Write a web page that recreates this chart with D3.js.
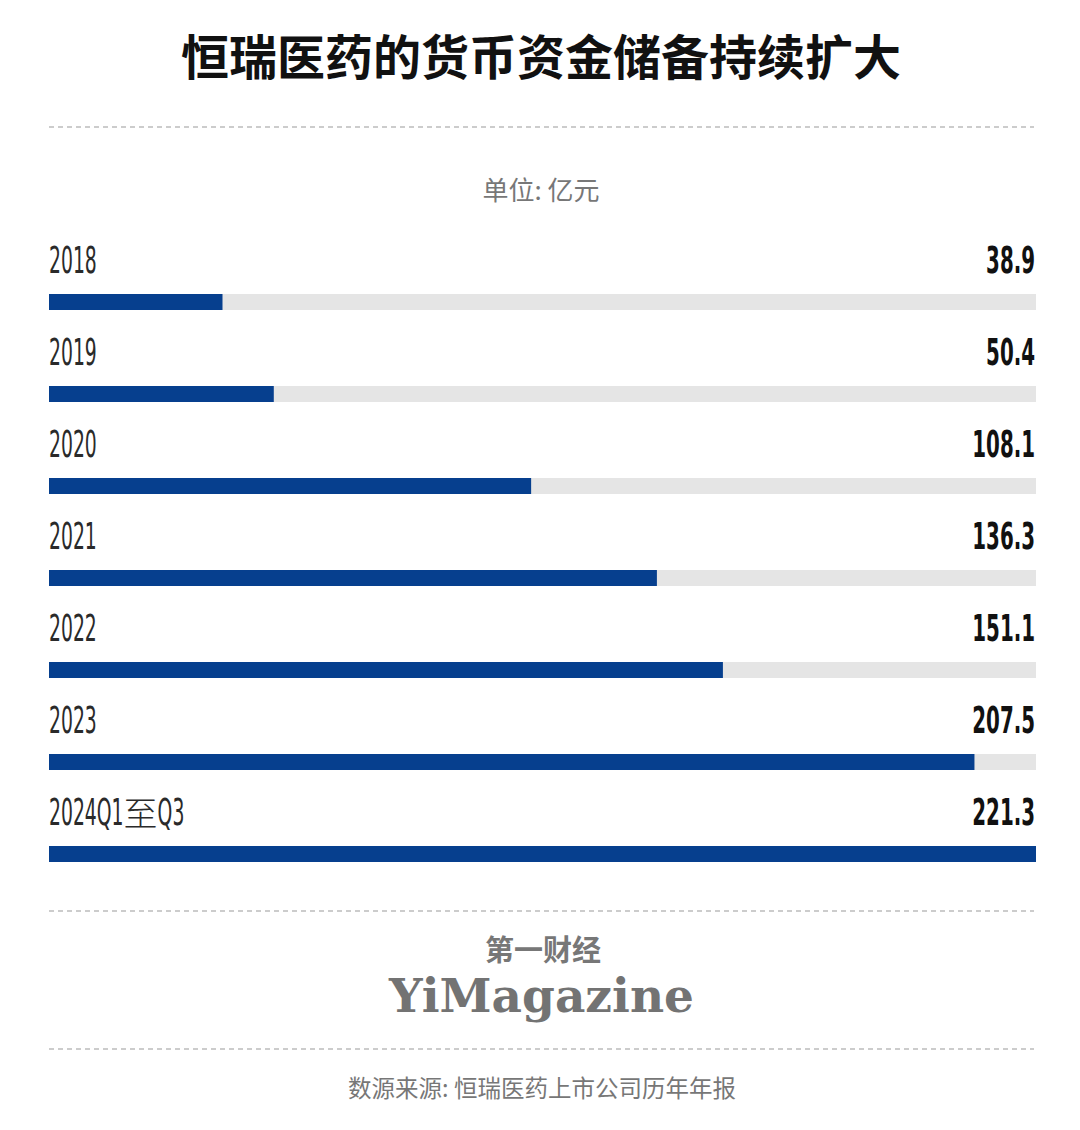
<!DOCTYPE html>
<html><head><meta charset="utf-8">
<script src="https://cdn.jsdelivr.net/npm/d3@7/dist/d3.min.js"></script>
<style>body{margin:0;background:#fff}svg{display:block}</style>
</head><body>
<svg id="c" width="1080" height="1130"></svg>
<script>
const categories = ["2018","2019","2020","2021","2022","2023","2024Q1至Q3"];
const values = [38.9, 50.4, 108.1, 136.3, 151.1, 207.5, 221.3];
const valueLabels = ["38.9","50.4","108.1","136.3","151.1","207.5","221.3"];
const titleText = "恒瑞医药的货币资金储备持续扩大";
const unitText = "单位: 亿元";
const sourceText = "数源来源: 恒瑞医药上市公司历年年报";

const svg = d3.select("#c");
const L = 49, R = 1036;
const x = d3.scaleLinear().domain([0, d3.max(values)]).range([L, R]);
const y = d3.scaleBand().domain(categories).range([294 - 38, 294 - 38 + 92*7]).paddingInner(0);
const barH = 16, barOff = 38;
const cjk = "'Noto Sans CJK SC', 'Noto Sans', sans-serif";
const narrow = "'Liberation Sans Narrow', 'DejaVu Sans Condensed', sans-serif";
const SX = 0.55;

svg.append("text").attr("x", 541).attr("y", 75).attr("text-anchor","middle")
  .attr("font-family", cjk).attr("font-weight", 700).attr("font-size", 48).attr("fill","#111")
  .text(titleText);

[127, 911, 1049].forEach(yy => svg.append("line").attr("x1", L).attr("x2", 1034)
  .attr("y1", yy).attr("y2", yy).attr("stroke","#999").attr("stroke-width",1.2)
  .attr("stroke-dasharray","5,4"));

svg.append("text").attr("x", 541).attr("y", 200).attr("text-anchor","middle")
  .attr("font-family", cjk).attr("font-size", 26).attr("fill","#777").text(unitText);

const rows = svg.append("g").selectAll("g").data(categories).join("g")
  .attr("transform", d => `translate(0,${y(d)})`);

rows.append("rect").attr("x", L).attr("y", barOff).attr("width", R - L).attr("height", barH).attr("fill","#e5e5e5");
rows.append("rect").attr("x", L).attr("y", barOff).attr("width", (d,i) => x(values[i]) - L).attr("height", barH).attr("fill","#063f8e");

rows.each(function(d, i){
  const g = d3.select(this);
  let cx = L;
  d.split(/(至)/).filter(p => p.length).forEach(p => {
    if (p === "至") {
      const t = g.append("text").attr("x", cx).attr("y", 18).attr("font-family", cjk).attr("font-weight", 300)
        .attr("font-size", 34).attr("fill","#2a2a2a").text(p);
      cx += t.node().getComputedTextLength();
    } else {
      const t = g.append("text").attr("font-family", narrow).attr("font-size", 38).attr("fill","#2a2a2a")
        .attr("transform", `translate(${cx},17) scale(${SX},1)`).text(p);
      cx += t.node().getComputedTextLength() * SX;
    }
  });
  g.append("text").attr("font-family", narrow).attr("font-weight", 700).attr("font-size", 38)
    .attr("fill","#111").attr("text-anchor","end")
    .attr("transform", `translate(1035,17) scale(0.58,1)`).text(valueLabels[i]);
});

svg.append("text").attr("x", 543).attr("y", 961).attr("text-anchor","middle")
  .attr("font-family", cjk).attr("font-weight", 700).attr("font-size", 29).attr("fill","#777").text("第一财经");
svg.append("text").attr("x", 389).attr("y", 1012)
  .attr("font-family", "'DejaVu Serif', serif").attr("font-weight", 700).attr("font-size", 46)
  .attr("fill","#737373").attr("textLength", 305).attr("lengthAdjust","spacingAndGlyphs").text("YiMagazine");

svg.append("text").attr("x", 542).attr("y", 1097).attr("text-anchor","middle")
  .attr("font-family", cjk).attr("font-size", 23.5).attr("fill","#777").text(sourceText);
</script>
</body></html>
